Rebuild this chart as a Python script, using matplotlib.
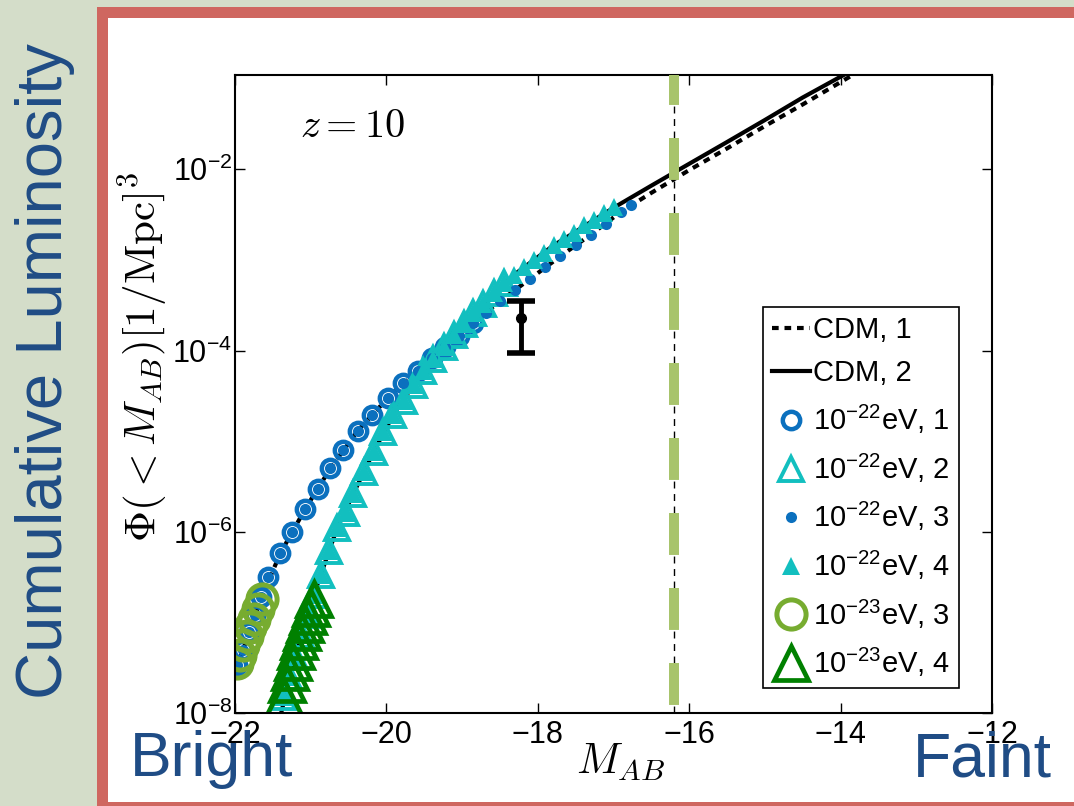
import numpy as np
import matplotlib
matplotlib.use('Agg')
import matplotlib.pyplot as plt
from matplotlib.patches import Rectangle
from matplotlib.ticker import NullLocator

plt.rcParams['font.family'] = ['Liberation Sans', 'DejaVu Sans']
plt.rcParams['mathtext.fontset'] = 'custom'
plt.rcParams['mathtext.rm'] = 'Liberation Sans'
plt.rcParams['mathtext.it'] = 'Liberation Sans:italic'
plt.rcParams['mathtext.bf'] = 'Liberation Sans:bold'

# CDM curves
cdm1_x = [-22.0, -21.65, -21.40, -21.07, -20.74, -20.38, -19.98, -19.58, -19.22, -18.86, -18.50,
          -18.10, -17.70, -17.30, -16.90, -16.50, -16.00, -15.50, -15.00, -14.50, -13.80]
cdm1_y = [2.8e-8, 1.9e-7, 5.8e-7, 1.8e-6, 5.0e-6, 1.3e-5, 3.0e-5, 6.0e-5, 1.1e-4, 2.0e-4, 3.5e-4,
          6.2e-4, 1.1e-3, 1.9e-3, 3.4e-3, 5.5e-3, 9.8e-3, 1.7e-2, 3.0e-2, 5.2e-2, 1.15e-1]
cdm2_x = [-21.45, -21.39, -21.21, -21.05, -20.87, -20.65, -20.44, -20.17, -19.91, -19.64, -19.38,
          -19.11, -18.85, -18.58, -18.32, -18.05, -17.79, -17.52, -17.26, -16.99, -16.50, -16.00,
          -15.50, -15.00, -14.50, -13.80]
cdm2_y = [7.1e-9, 1.0e-8, 4.2e-8, 1.2e-7, 3.3e-7, 1.1e-6, 2.6e-6, 7.6e-6, 1.95e-5, 4.2e-5, 8.1e-5,
          1.5e-4, 2.6e-4, 4.3e-4, 6.8e-4, 1.0e-3, 1.45e-3, 2.0e-3, 2.75e-3, 3.8e-3, 6.6e-3, 1.15e-2,
          2.0e-2, 3.5e-2, 6.2e-2, 1.3e-1]

# 1e-22 eV, 1 (open circles)
s1_x = [-21.97, -21.90, -21.82, -21.74, -21.65, -21.56, -21.40, -21.25, -21.07, -20.90, -20.74,
        -20.57, -20.38, -20.19, -19.98, -19.78, -19.58, -19.40, -19.22, -19.04, -18.86]
s1_y = [3.4e-8, 5.0e-8, 7.9e-8, 1.2e-7, 1.9e-7, 3.2e-7, 5.8e-7, 1.0e-6, 1.8e-6, 3.0e-6, 5.0e-6,
        7.9e-6, 1.3e-5, 1.95e-5, 3.0e-5, 4.4e-5, 6.0e-5, 8.3e-5, 1.1e-4, 1.45e-4, 2.0e-4]
# 1e-22 eV, 3 (dots)
s3_x = s1_x + [-18.68, -18.50, -18.30, -18.10, -17.90, -17.70, -17.50, -17.30, -17.10, -16.90, -16.77]
s3_y = s1_y + [2.6e-4, 3.5e-4, 4.7e-4, 6.2e-4, 8.3e-4, 1.1e-3, 1.45e-3, 1.9e-3, 2.5e-3, 3.4e-3, 4.0e-3]

# 1e-22 eV, 2 (open triangles)
s2_x = [-21.36, -21.28, -21.21, -21.13, -21.05, -20.96, -20.87, -20.76, -20.65, -20.54, -20.44,
        -20.30, -20.17, -20.04, -19.91, -19.77, -19.64, -19.51, -19.38, -19.24, -19.11, -18.98,
        -18.85, -18.72, -18.58, -18.45]
s2_y = [1.5e-8, 2.5e-8, 4.2e-8, 7.2e-8, 1.2e-7, 2.0e-7, 3.3e-7, 6.2e-7, 1.1e-6, 1.6e-6, 2.6e-6,
        4.6e-6, 7.6e-6, 1.26e-5, 1.95e-5, 2.8e-5, 4.2e-5, 5.9e-5, 8.1e-5, 1.1e-4, 1.5e-4, 1.95e-4,
        2.6e-4, 3.3e-4, 4.3e-4, 5.5e-4]
# 1e-22 eV, 4 (filled triangles)
s4_x = s2_x + [-18.32, -18.18, -18.05, -17.92, -17.79, -17.66, -17.52, -17.39, -17.26, -17.12, -16.99]
s4_y = s2_y + [6.8e-4, 8.3e-4, 1.0e-3, 1.2e-3, 1.45e-3, 1.7e-3, 2.0e-3, 2.4e-3, 2.75e-3, 3.3e-3, 3.8e-3]

# 1e-23 eV, 3 and 4
g3_x = [-21.97, -21.93, -21.89, -21.84, -21.80, -21.75, -21.70, -21.64]
g3_y = [3.6e-8, 4.4e-8, 5.6e-8, 7.1e-8, 8.9e-8, 1.1e-7, 1.4e-7, 1.8e-7]
g4_x = [-21.35, -21.31, -21.27, -21.23, -21.19, -21.15, -21.11, -21.07, -21.03, -20.99, -20.95]
g4_y = [1.5e-8, 2.1e-8, 2.8e-8, 3.7e-8, 4.8e-8, 6.2e-8, 7.8e-8, 9.5e-8, 1.17e-7, 1.45e-7, 1.8e-7]

# observation point with error bar
obs_x = -18.22
obs_y = 2.3e-4
obs_lo = 9.3e-5
obs_hi = 3.5e-4

m_cut = -16.2

blue = '#0b70be'
cyan = '#12bfbf'
lgreen = '#77ac30'
dgreen = '#008000'
txtblue = '#1f4c85'

fig = plt.figure(figsize=(10.74, 8.06), dpi=100)
fig.patch.set_facecolor('#d4ddc9')
fig.add_artist(Rectangle((97/1074, -0.02), 1.0, 0.02 + 1 - 7/806, transform=fig.transFigure,
                         facecolor='#cf6760', edgecolor='none', zorder=-10))
fig.add_artist(Rectangle((108/1074, 4/806), 1.0, (802-18)/806, transform=fig.transFigure,
                         facecolor='white', edgecolor='none', zorder=-9))

ax = fig.add_axes([0.2188, 0.1154, 0.7048, 0.7916])

ax.plot(cdm1_x, cdm1_y, color='k', lw=3, ls=(0, (1.6, 1.4)), label='CDM, 1')
ax.plot(cdm2_x, cdm2_y, color='k', lw=3, ls='-', label='CDM, 2')
ax.plot(s1_x, s1_y, 'o', mfc='none', mec=blue, mew=3.2, ms=12.5, ls='none',
        label='$\\mathdefault{10^{-22}}$eV, 1')
ax.plot(s2_x, s2_y, '^', mfc='none', mec=cyan, mew=2.8, ms=17, ls='none',
        label='$\\mathdefault{10^{-22}}$eV, 2')
ax.plot(s3_x, s3_y, 'o', mfc=blue, mec=blue, mew=0, ms=8, ls='none',
        label='$\\mathdefault{10^{-22}}$eV, 3')
ax.plot(s4_x, s4_y, '^', mfc=cyan, mec=cyan, mew=0, ms=13, ls='none',
        label='$\\mathdefault{10^{-22}}$eV, 4')
ax.plot(g3_x, g3_y, 'o', mfc='none', mec=lgreen, mew=3.6, ms=21, ls='none',
        label='$\\mathdefault{10^{-23}}$eV, 3')
ax.plot(g4_x, g4_y, '^', mfc='none', mec=dgreen, mew=3.4, ms=25, ls='none',
        label='$\\mathdefault{10^{-23}}$eV, 4')

ax.errorbar([obs_x], [obs_y], yerr=[[obs_y - obs_lo], [obs_hi - obs_y]], fmt='o', color='k',
            ms=7, elinewidth=3.5, capsize=10, capthick=4)

# cut-off magnitude lines
ax.axvline(m_cut, color='k', lw=1, ls=(0, (5, 4)), zorder=4)
ax.plot([m_cut, m_cut], [1e-8, 0.11], color='#a8c46c', lw=7.2,
        ls=(48.2 / 7.2, (30.2 / 7.2, 23.8 / 7.2)), solid_capstyle='butt', zorder=5)

ax.set_xlim(-22, -12)
ax.set_yscale('log')
ax.set_ylim(1e-8, 0.11)
ax.set_xticks([-22, -20, -18, -16, -14, -12])
ax.set_xticklabels(['\u221222', '\u221220', '\u221218', '\u221216', '\u221214', '\u221212'])
ax.set_yticks([1e-8, 1e-6, 1e-4, 1e-2])
ax.yaxis.set_minor_locator(NullLocator())
ax.tick_params(direction='in', length=7, width=1, labelsize=22, top=True, right=True)
ax.tick_params(axis='x', pad=5)
ax.tick_params(axis='y', pad=2)
for sp in ax.spines.values():
    sp.set_linewidth(1.5)

ax.set_xlabel('$M_{AB}$', fontsize=31, math_fontfamily='cm')
ax.xaxis.set_label_coords(0.509, -0.045)
ax.set_ylabel('$\\Phi(<M_{AB})[1/\\mathrm{Mpc}]^3$', fontsize=31, math_fontfamily='cm')
ax.yaxis.set_label_coords(-0.086, 0.558)

ax.text(0.155, 0.92, '$z = 10$', transform=ax.transAxes, fontsize=29, math_fontfamily='cm',
        ha='center', va='center')

leg = ax.legend(loc='upper right', bbox_to_anchor=(0.956, 0.636), borderaxespad=0,
                fontsize=21, labelspacing=0.53, handlelength=1.3, handletextpad=0.1,
                borderpad=0.3, fancybox=False, framealpha=1, edgecolor='k')
leg.get_frame().set_linewidth(1.2)

fig.text(62/1074, 0.540, 'Cumulative Luminosity', rotation=90, rotation_mode='anchor',
         ha='center', va='baseline', fontsize=47, color=txtblue)
fig.text(130/1074, 0.037, 'Bright', ha='left', va='baseline', fontsize=45, color=txtblue, zorder=10)
fig.text(1052/1074, 0.037, 'Faint', ha='right', va='baseline', fontsize=45, color=txtblue, zorder=10)

fig.savefig('out.png', dpi=100, facecolor=fig.get_facecolor())
